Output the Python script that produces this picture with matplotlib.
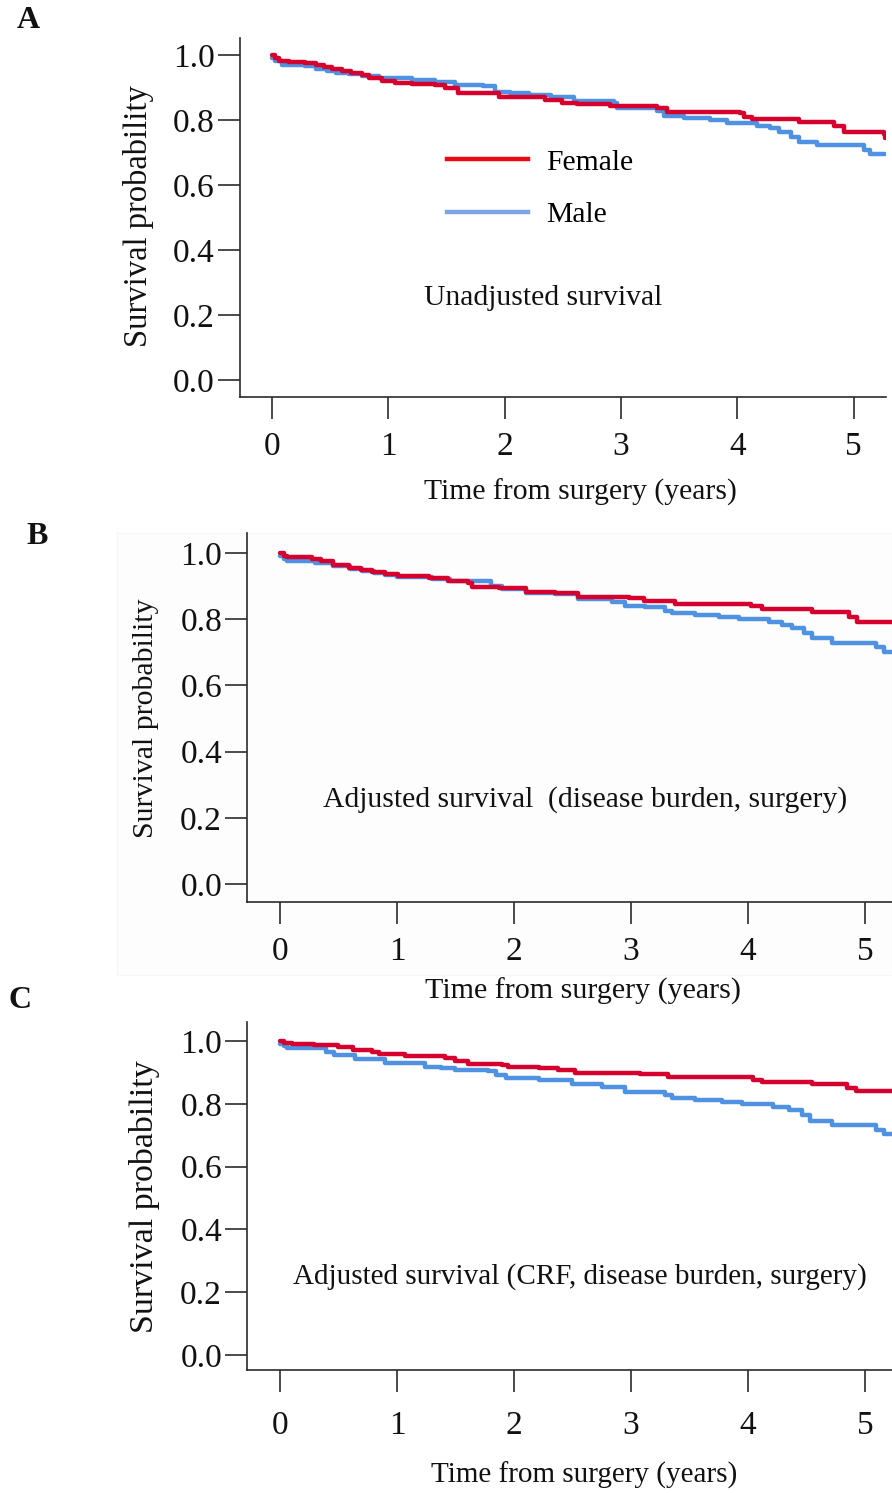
import matplotlib
matplotlib.use("Agg")
import matplotlib.pyplot as plt
from matplotlib.lines import Line2D
from matplotlib.patches import Rectangle

plt.rcParams["font.family"] = ["Liberation Serif", "DejaVu Serif"]

# ---------------- data (years from surgery, survival probability) ----------------
time_a_female = [0, 0.03, 0.06, 0.15, 0.28, 0.38, 0.45, 0.52, 0.60, 0.68, 0.77, 0.83, 0.95, 1.06,
                 1.20, 1.40, 1.49, 1.60, 1.95, 2.35, 2.49, 2.62, 2.91, 3.31, 3.40, 4.02, 4.06,
                 4.13, 4.53, 4.83, 4.92, 5.26, 5.27]
surv_a_female = [1.0, 0.99, 0.98, 0.977, 0.974, 0.968, 0.962, 0.957, 0.951, 0.945, 0.938, 0.930,
                 0.920, 0.913, 0.911, 0.907, 0.897, 0.884, 0.870, 0.862, 0.851, 0.848, 0.844,
                 0.836, 0.824, 0.820, 0.810, 0.803, 0.795, 0.780, 0.762, 0.756, 0.744]

time_a_male = [0, 0.03, 0.09, 0.28, 0.38, 0.47, 0.55, 0.66, 0.77, 0.92, 1.20, 1.40, 1.57, 1.81,
               1.92, 2.05, 2.21, 2.40, 2.60, 2.94, 2.97, 3.31, 3.37, 3.54, 3.77, 3.91, 4.10,
               4.17, 4.28, 4.36, 4.46, 4.53, 4.69, 5.09, 5.14, 5.27]
surv_a_male = [0.99, 0.98, 0.969, 0.965, 0.958, 0.950, 0.944, 0.940, 0.935, 0.928, 0.923, 0.918,
               0.906, 0.903, 0.887, 0.882, 0.877, 0.870, 0.858, 0.851, 0.836, 0.826, 0.813,
               0.807, 0.800, 0.792, 0.790, 0.780, 0.774, 0.762, 0.749, 0.733, 0.723, 0.708,
               0.694, 0.694]

time_b_female = [0, 0.03, 0.06, 0.27, 0.35, 0.45, 0.59, 0.69, 0.79, 0.90, 1.01, 1.27, 1.44, 1.61,
                 1.64, 1.87, 2.10, 2.35, 2.55, 2.98, 3.11, 3.38, 4.03, 4.12, 4.55, 4.86, 4.93,
                 5.23]
surv_b_female = [1.0, 0.99, 0.987, 0.981, 0.974, 0.964, 0.954, 0.948, 0.943, 0.936, 0.930, 0.923,
                 0.915, 0.908, 0.898, 0.893, 0.883, 0.878, 0.866, 0.863, 0.856, 0.846, 0.840,
                 0.830, 0.822, 0.805, 0.792, 0.792]

time_b_male = [0, 0.03, 0.06, 0.30, 0.45, 0.60, 0.70, 0.80, 0.90, 1.00, 1.30, 1.45, 1.80, 1.90,
               2.10, 2.35, 2.55, 2.84, 2.95, 3.12, 3.29, 3.35, 3.55, 3.75, 3.92, 4.18, 4.29,
               4.38, 4.48, 4.55, 4.72, 5.09, 5.16, 5.23]
surv_b_male = [0.99, 0.98, 0.975, 0.970, 0.960, 0.950, 0.944, 0.938, 0.933, 0.928, 0.922, 0.915,
               0.899, 0.890, 0.880, 0.875, 0.860, 0.853, 0.841, 0.836, 0.825, 0.819, 0.813,
               0.805, 0.799, 0.792, 0.782, 0.772, 0.757, 0.742, 0.729, 0.717, 0.702, 0.702]

time_c_female = [0, 0.03, 0.10, 0.29, 0.50, 0.62, 0.79, 0.85, 1.07, 1.41, 1.50, 1.61, 1.90, 1.95,
                 2.21, 2.38, 2.52, 3.08, 3.32, 4.01, 4.04, 4.12, 4.55, 4.85, 4.92, 5.23]
surv_c_female = [1.0, 0.993, 0.990, 0.988, 0.980, 0.971, 0.966, 0.959, 0.952, 0.945, 0.938, 0.926,
                 0.924, 0.918, 0.913, 0.908, 0.899, 0.894, 0.887, 0.885, 0.876, 0.870, 0.863,
                 0.852, 0.841, 0.841]

time_c_male = [0, 0.03, 0.06, 0.39, 0.46, 0.64, 0.90, 1.15, 1.24, 1.38, 1.50, 1.78, 1.85, 1.93,
               2.21, 2.50, 2.75, 2.95, 3.29, 3.35, 3.55, 3.78, 3.95, 4.21, 4.35, 4.46, 4.53,
               4.72, 5.09, 5.16, 5.23]
surv_c_male = [0.99, 0.983, 0.977, 0.966, 0.955, 0.942, 0.931, 0.929, 0.918, 0.915, 0.908, 0.904,
               0.893, 0.883, 0.876, 0.865, 0.855, 0.839, 0.828, 0.818, 0.812, 0.807, 0.801,
               0.791, 0.780, 0.764, 0.746, 0.732, 0.717, 0.704, 0.704]

x_ticks = [0, 1, 2, 3, 4, 5]
y_ticks = [0.0, 0.2, 0.4, 0.6, 0.8, 1.0]
y_ticklabels = ["0.0", "0.2", "0.4", "0.6", "0.8", "1.0"]
group_labels = ["Female", "Male"]
panel_titles = ["Unadjusted survival",
                "Adjusted survival  (disease burden, surgery)",
                "Adjusted survival (CRF, disease burden, surgery)"]

# ---------------- styling ----------------
W, H = 892, 1493
RED = "#d5002e"
BLUE = "#4f92e2"
RED_KEY = "#ec0a12"
BLUE_KEY = "#7ca6e2"
SPINE = "#2b2b2b"

fig = plt.figure(figsize=(W / 100, H / 100), dpi=100)


def fx(x):
    return x / W


def fy(y):
    return 1 - y / H


def add_axes_px(left, top, right, bottom):
    return fig.add_axes([fx(left), fy(bottom), (right - left) / W, (bottom - top) / H])


# faint backdrop behind the middle panel
fig.patches.append(Rectangle((fx(117), fy(975)), (892 - 117) / W, (975 - 533) / H,
                             transform=fig.transFigure, facecolor="#fdfdfd",
                             edgecolor="#f6f6f6", lw=0.8, zorder=-5))

panels = [
    dict(box=(240, 38, 886, 397), xlim=(-0.275, 5.279), ylim=(-0.052, 1.052), xpad=9,
         female=(time_a_female, surv_a_female), male=(time_a_male, surv_a_male),
         letter=("A", 28, 21), ylab=(138, 216, 23.5), xlab=(580, 492, 21.3),
         title=(543, 298, 21.3)),
    dict(box=(247, 533, 892, 902), xlim=(-0.282, 5.231), ylim=(-0.054, 1.060), xpad=9,
         female=(time_b_female, surv_b_female), male=(time_b_male, surv_b_male),
         letter=("B", 37, 537), ylab=(146, 718, 21.5), xlab=(583, 991, 21.6),
         title=(585, 800, 21.3)),
    dict(box=(247, 1022, 892, 1370), xlim=(-0.282, 5.231), ylim=(-0.048, 1.061), xpad=13,
         female=(time_c_female, surv_c_female), male=(time_c_male, surv_c_male),
         letter=("C", 20, 1000), ylab=(145, 1197, 24.5), xlab=(584, 1475, 21.0),
         title=(580, 1277, 21.0)),
]

axes = []
for i, p in enumerate(panels):
    ax = add_axes_px(*p["box"])
    axes.append(ax)
    ax.plot(*p["male"], drawstyle="steps-post", color=BLUE, lw=3.2, solid_capstyle="round",
            zorder=3)
    ax.plot(*p["female"], drawstyle="steps-post", color=RED, lw=3.2, solid_capstyle="round",
            zorder=4)
    ax.set_xlim(*p["xlim"])
    ax.set_ylim(*p["ylim"])
    ax.set_xticks(x_ticks)
    ax.set_yticks(y_ticks)
    ax.set_yticklabels(y_ticklabels)
    for side in ("top", "right"):
        ax.spines[side].set_visible(False)
    for side in ("left", "bottom"):
        ax.spines[side].set_linewidth(1.2)
        ax.spines[side].set_color(SPINE)
    ax.tick_params(axis="both", direction="out", length=16, width=1.2, color=SPINE,
                   labelsize=24, labelcolor="#111111")
    ax.tick_params(axis="y", pad=2)
    ax.tick_params(axis="x", pad=p["xpad"])
    ax.set_facecolor("none")

    letter, lx, ly = p["letter"]
    fig.text(fx(lx), fy(ly), letter, fontsize=23, fontweight="bold", ha="center",
             va="center", color="#111111")
    x, y, s = p["ylab"]
    fig.text(fx(x), fy(y), "Survival probability", rotation=90, fontsize=s, ha="center",
             va="center", color="#111111")
    x, y, s = p["xlab"]
    fig.text(fx(x), fy(y), "Time from surgery (years)", fontsize=s, ha="center",
             va="center", color="#111111")
    x, y, s = p["title"]
    fig.text(fx(x), fy(y), panel_titles[i], fontsize=s, ha="center", va="center",
             color="#111111")

# key for the top panel
handles = [Line2D([], [], color=RED_KEY, lw=3.2), Line2D([], [], color=BLUE_KEY, lw=3.2)]
axes[0].legend(handles, group_labels, loc="upper left",
               bbox_to_anchor=(fx(447), fy(149)), bbox_transform=fig.transFigure,
               frameon=False, fontsize=21.3, handlelength=2.74, handletextpad=0.62,
               labelspacing=0.86, borderpad=0, borderaxespad=0)

fig.savefig("out.png", dpi=100, facecolor="white")
